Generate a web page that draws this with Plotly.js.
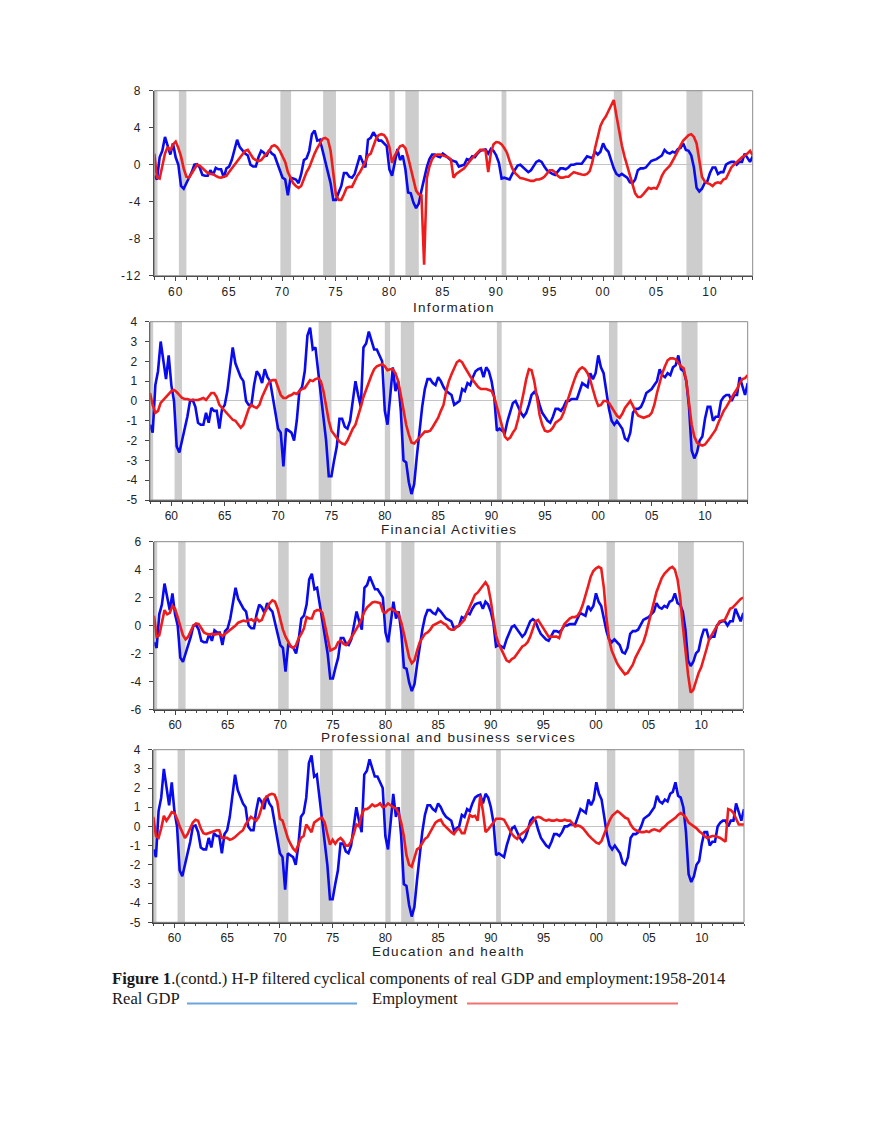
<!DOCTYPE html>
<html>
<head>
<meta charset="utf-8">
<script src="https://cdn.plot.ly/plotly-3.0.1.min.js"></script>
<style>
  body { margin: 0; background: #fff; }
  #fig { width: 880px; height: 1139px; }
  .xtick text, .ytick text { letter-spacing: 1px; }
</style>
</head>
<body>
<div id="fig"></div>
<script>
// quarterly HP cyclical components, 1958Q1 onwards
const realGDP = [
  -1.2, -1.6, 0.8, 1.5, 3.0, 2.0, 1.1, 2.3,
  0.8, 0.0, -2.3, -2.6, -2.0, -1.5, -0.8, 0.0,
  0.05, -0.3, -1.1, -1.2, -1.2, -0.6, -1.1, -0.35,
  -0.5, -0.5, -1.4, -0.4, -0.2, 0.5, 1.6, 2.7,
  1.9, 1.5, 1.2, 1.0, 0.0, -0.2, -0.2, 0.8,
  1.5, 1.3, 0.9, 1.6, 1.2, 1.0, 0.3, -0.6,
  -1.4, -1.6, -3.3, -1.4, -1.5, -1.6, -2.0, -1.0,
  0.5, 0.7, 1.5, 3.3, 3.7, 2.6, 2.7, 1.5,
  0.3, -1.0, -2.0, -3.8, -3.8, -3.0, -2.3, -0.9,
  -0.9, -1.3, -1.4, -1.0, 0.0, 1.0, 0.3, -0.3,
  2.7, 2.9, 3.5, 3.0, 2.6, 2.6, 2.3, 2.0,
  -0.5, -1.2, 0.2, 1.7, 0.5, 1.0, -0.5, -3.0,
  -3.1, -4.1, -4.7, -4.2, -2.8, -1.5, -0.3, 0.6,
  1.1, 1.1, 0.9, 0.8, 1.2, 1.0, 0.7, 0.5,
  0.4, 0.3, -0.2, -0.1, 0.0, 0.6, 0.5, 0.9,
  0.8, 1.2, 1.5, 1.6, 1.65, 1.2, 1.7, 1.5,
  1.0, 0.2, -1.5, -1.4, -1.5, -1.6, -1.0, -0.5,
  -0.1, 0.0, -0.3, -0.6, -0.8, -0.6, -0.2, 0.3,
  0.45, 0.3, -0.2, -0.6, -0.8, -1.0, -1.1, -0.8,
  -0.4, -0.4, -0.5, -0.3, 0.0, 0.0, 0.1, 0.1,
  0.1, 0.5, 0.9, 0.8, 0.7, 1.4, 1.1, 1.4,
  2.3, 1.7, 1.4, 0.5, -0.4, -1.0, -1.2, -1.0,
  -1.2, -1.4, -1.9, -2.0, -1.6, -0.6, -0.4, -0.4,
  -0.3, 0.0, 0.4, 0.5, 0.6, 0.8, 1.0, 1.6,
  1.3, 1.2, 1.4, 1.3, 1.7, 1.8, 2.3, 1.6,
  1.5, 1.0, -0.3, -2.5, -2.9, -2.6, -2.0, -1.8,
  -0.9, -0.3, -0.3, -1.0, -0.8, -0.8, 0.0, 0.2,
  0.3, 0.3, 0.0, 0.3, 0.3, 1.2, 0.8, 0.3, 0.9
];

const empInformation = [
  1.2, -1.4, -1.5, -0.2, 1.2, 1.9, 1.5, 2.2,
  2.5, 1.8, 0.9, -0.4, -1.3, -1.4, -0.9, -0.4,
  0.0, -0.1, -0.4, -0.7, -0.9, -1.0, -1.0, -1.2,
  -1.35, -1.4, -1.3, -1.2, -0.8, -0.4, 0.0, 0.4,
  0.8, 1.2, 1.5, 1.6, 1.2, 0.7, 0.5, 0.4,
  0.5, 0.9, 1.2, 1.5, 2.0, 2.1, 1.9, 1.5,
  0.8, 0.3, -0.8, -1.5, -2.0, -2.3, -2.5, -2.3,
  -1.5, -0.8, -0.3, 0.5, 1.2, 1.8, 2.3, 2.8,
  2.9, 2.7, 1.5, -1.0, -3.3, -3.8, -3.8, -3.2,
  -2.5, -2.4, -2.4, -1.8, -1.2, -0.8, -0.3, 0.3,
  1.0, 1.2, 2.0, 2.8, 3.2, 3.3, 3.2, 2.8,
  1.9, 0.2, 1.0, 1.5, 2.0, 2.1, 1.8, 0.8,
  -0.3, -1.5, -2.8, -3.2, -3.3, -10.8, -1.5, -0.2,
  0.6, 1.0, 1.1, 1.1, 1.0, 0.9, 0.8, 0.6,
  -1.4, -1.0, -0.8, -0.6, -0.4, 0.0, 0.4, 0.7,
  1.0, 1.3, 1.6, 1.6, 1.5, -0.8, 1.3, 2.2,
  2.45, 2.4, 2.2, 1.8, 1.3, 0.4, -0.4, -0.9,
  -1.2, -1.45, -1.5, -1.6, -1.7, -1.75, -1.75, -1.6,
  -1.6, -1.5, -1.3, -0.9, -0.6, -0.6, -0.8, -1.2,
  -1.4, -1.4, -1.3, -1.3, -1.0, -0.8, -0.9, -1.0,
  -1.05, -1.1, -1.0, -0.7, 0.3, 1.8, 3.0, 4.2,
  4.8, 5.2, 5.8, 6.4, 7.0, 5.3, 3.6, 2.1,
  0.9, -0.1, -1.2, -2.2, -3.1, -3.5, -3.5, -3.2,
  -2.8, -2.5, -2.6, -2.5, -2.6, -2.0, -1.2, -0.7,
  -0.4, -0.1, 0.4, 0.9, 1.5, 2.1, 2.6, 2.9,
  3.2, 3.3, 3.0, 2.3, 0.5, -1.3, -1.8, -2.0,
  -2.1, -2.3, -2.0, -1.9, -2.0, -1.6, -1.5, -0.8,
  -0.3, 0.0, 0.3, 0.5, 0.8, 1.0, 1.2, 1.5, 1.0
];

const empFinancial = [
  0.4, -0.2, -0.6, -0.5, -0.1, 0.05, 0.15, 0.3,
  0.5, 0.55, 0.45, 0.3, 0.15, 0.1, 0.1, 0.05,
  0.05, 0.05, 0.05, 0.1, 0.15, 0.05, 0.2, 0.4,
  0.4, 0.2, -0.2, -0.35, -0.5, -0.6, -0.8, -0.95,
  -1.0, -1.2, -1.35, -1.2, -0.8, -0.4, -0.2, -0.3,
  -0.35, -0.2, 0.2, 0.5, 0.8, 1.0, 1.05, 1.05,
  0.7, 0.3, 0.15, 0.15, 0.25, 0.3, 0.4, 0.35,
  0.5, 0.6, 0.65, 0.85, 1.05, 1.0, 1.1, 1.15,
  1.0, 0.5, -0.3, -1.0, -1.5, -1.7, -1.9, -2.05,
  -2.15, -2.2, -2.0, -1.7, -1.4, -1.2, -0.8, -0.3,
  0.2, 0.6, 1.0, 1.3, 1.6, 1.75, 1.8, 1.85,
  1.75, 1.55, 1.6, 1.6, 1.4, 1.0, 0.3, -0.5,
  -1.2, -1.7, -2.1, -2.15, -2.0, -1.8, -1.65, -1.55,
  -1.55, -1.5, -1.3, -1.1, -0.85, -0.5, -0.2, 0.5,
  1.0, 1.35, 1.7, 1.95, 2.05, 1.95, 1.7, 1.45,
  1.25, 1.05, 0.85, 0.7, 0.6, 0.6, 0.6, 0.55,
  0.5, 0.2, -0.3, -0.9, -1.4, -1.8, -1.95, -1.85,
  -1.6, -1.4, -0.9, -0.3, 0.4, 1.1, 1.6, 1.55,
  1.0, 0.2, -0.7, -1.2, -1.5, -1.55, -1.5, -1.35,
  -1.1, -1.0, -0.9, -0.6, -0.15, 0.25, 0.65, 1.05,
  1.4, 1.6, 1.7, 1.6, 1.4, 1.05, 0.55, 0.1,
  -0.25, -0.2, 0.0, 0.0, -0.1, -0.3, -0.55, -0.75,
  -0.85, -0.65, -0.35, -0.15, 0.0, -0.25, -0.55, -0.75,
  -0.8, -0.85, -0.8, -0.75, -0.6, -0.2, 0.4, 0.9,
  1.4, 1.75, 2.05, 2.15, 2.15, 2.1, 1.9, 1.75,
  1.65, 1.0, -0.1, -1.2, -1.8, -2.1, -2.2, -2.25,
  -2.2, -2.05, -1.85, -1.65, -1.45, -1.1, -0.8, -0.5,
  -0.3, -0.05, 0.2, 0.4, 0.6, 0.9, 1.1, 1.15, 1.3
];

const empProfessional = [
  0.7, -0.8, -0.7, 0.2, 1.1, 0.8, 0.9, 1.4,
  1.2, 0.6, -0.1, -0.7, -1.0, -0.8, -0.4, 0.0,
  0.15, 0.1, -0.2, -0.5, -0.6, -0.65, -0.6, -0.65,
  -0.6, -0.6, -0.75, -0.6, -0.45, -0.35, -0.2, 0.0,
  0.2, 0.3, 0.35, 0.3, 0.35, 0.45, 0.3, 0.5,
  0.3, 0.4, 0.9, 1.3, 1.6, 1.8, 1.7, 1.2,
  0.4, -0.3, -0.8, -1.2, -1.5, -1.6, -1.4, -0.9,
  -0.6, -0.2, 0.6, 0.5, 0.5, 1.0, 1.1, 1.1,
  0.9, 0.0, -1.0, -1.8, -1.7, -1.6, -1.2, -1.1,
  -1.3, -1.4, -1.2, -0.9, -0.6, -0.2, 0.1, 0.5,
  1.0, 1.3, 1.5, 1.65, 1.7, 1.65, 1.6, 1.0,
  0.9, 1.1, 1.2, 1.1, 1.0, 0.8, 0.2, -0.6,
  -1.5, -2.3, -2.7, -2.5, -1.8, -1.2, -0.9, -0.6,
  -0.5, -0.3, 0.0, 0.1, 0.25, 0.3, 0.15, 0.05,
  -0.2, -0.3, -0.3, -0.1, 0.0, 0.2, 0.4, 0.9,
  1.3, 1.7, 2.2, 2.35, 2.6, 2.8, 3.1, 2.8,
  1.8, 0.5, -0.7, -1.3, -1.7, -2.1, -2.5, -2.6,
  -2.4, -2.3, -2.0, -1.7, -1.5, -1.4, -1.2, -0.8,
  -0.3, 0.3, 0.4, 0.1, -0.3, -0.6, -0.8, -0.8,
  -0.8, -0.8, -0.9, -0.3, 0.1, 0.3, 0.5, 0.6,
  0.6, 0.7, 1.0, 1.5, 2.1, 2.8, 3.5, 3.9,
  4.1, 4.2, 4.1, 2.7, 0.5, -1.0, -1.8, -2.3,
  -2.7, -3.0, -3.3, -3.5, -3.4, -3.1, -2.8, -2.3,
  -1.9, -1.5, -1.2, -0.6, 0.2, 0.9, 1.7, 2.4,
  2.9, 3.4, 3.7, 3.9, 4.1, 4.2, 4.0, 3.3,
  2.0, 0.0, -2.0, -3.5, -4.8, -4.6, -4.0, -3.4,
  -3.0, -2.4, -1.7, -1.0, -0.7, -0.3, 0.0, 0.3,
  0.35, 0.4, 0.8, 1.2, 1.3, 1.5, 1.7, 1.9, 2.0
];

const empEducation = [
  0.5, -0.5, -0.6, -0.1, 0.55, 0.3, 0.5, 0.75,
  0.7, 0.4, 0.0, -0.3, -0.6, -0.4, -0.1, 0.2,
  0.35, 0.3, -0.1, -0.35, -0.4, -0.35, -0.3, -0.25,
  -0.2, -0.2, -0.6, -0.6, -0.6, -0.7, -0.65, -0.55,
  -0.4, -0.3, -0.2, 0.1, 0.3, 0.5, 0.4, 0.3,
  0.5, 1.0, 1.4, 1.55, 1.65, 1.7, 1.65, 1.3,
  0.4, 0.3, -0.2, -0.6, -0.9, -1.15, -1.3, -0.9,
  -0.6, -0.5, 0.1, -0.1, -0.3, 0.2, 0.3, 0.4,
  0.45, 0.2, -0.4, -0.95, -0.7, -0.9, -0.7, -0.6,
  -0.75, -1.0, -1.0, -0.8, -0.4, 0.1, 0.0, 0.6,
  0.9, 0.9, 1.0, 1.15, 1.05, 1.1, 1.2, 1.0,
  1.05, 1.2, 1.1, 1.0, 0.95, 0.7, 0.2, -0.5,
  -1.5, -2.0, -2.1, -1.7, -1.2, -1.1, -0.9, -0.65,
  -0.55, -0.3, 0.0, 0.2, 0.3, 0.35, 0.1, -0.05,
  -0.2, -0.3, -0.4, -0.2, -0.1, -0.35, -0.35, 0.2,
  0.6, 0.5, 0.55, 0.3, 1.6, 0.8, -0.3, -0.15,
  0.0, 0.2, 0.4, 0.4, 0.4, 0.35, 0.1, -0.2,
  -0.4, -0.55, -0.65, -0.45, -0.35, -0.25, -0.1, 0.1,
  0.3, 0.45, 0.5, 0.45, 0.35, 0.3, 0.35, 0.3,
  0.3, 0.35, 0.3, 0.3, 0.35, 0.3, 0.3, 0.15,
  0.0, 0.05, 0.0, -0.1, -0.3, -0.45, -0.6, -0.75,
  -0.85, -0.9, -0.75, -0.4, 0.0, 0.3, 0.55, 0.7,
  0.8, 0.7, 0.55, 0.45, 0.4, 0.1, -0.1, -0.2,
  -0.25, -0.3, -0.3, -0.25, -0.3, -0.2, -0.15, -0.2,
  -0.25, -0.1, 0.0, 0.15, 0.25, 0.35, 0.45, 0.6,
  0.7, 0.6, 0.45, 0.2, 0.1, 0.0, -0.1, -0.25,
  -0.35, -0.5, -0.6, -0.55, -0.5, -0.5, -0.55, -0.6,
  -0.7, -0.8, 0.9, 0.85, 0.7, 0.4, 0.1, 0.1, 0.1
];

// NBER recessions (shaded)
const recStart = [1957.9, 1960.3, 1969.8, 1973.8, 1980.0, 1981.5, 1990.5, 2001.0, 2007.8];
const recEnd   = [1958.3, 1961.0, 1970.8, 1975.0, 1980.5, 1982.75, 1990.95, 2001.8, 2009.3];

const yearTicks = [1960, 1965, 1970, 1975, 1980, 1985, 1990, 1995, 2000, 2005, 2010];
const yearLabels = ['60', '65', '70', '75', '80', '85', '90', '95', '00', '05', '10'];

const sectors = ['Information', 'Financial Activities', 'Professional and business services', 'Education and health'];
const employment = [empInformation, empFinancial, empProfessional, empEducation];

// panel boxes in page pixels
const W = 880, H = 1139;
const panels = [
  {top: 90.7, bottom: 275.7, left: 154.3, right: 752.7, range: [-12, 8], dtick: 4, titleY: 307.5},
  {top: 321.7, bottom: 500, left: 150, right: 747.7, range: [-5, 4], dtick: 1, titleY: 529.5},
  {top: 541.7, bottom: 709.3, left: 154, right: 743.3, range: [-6, 6], dtick: 2, titleY: 737.5},
  {top: 749.7, bottom: 922.3, left: 153.3, right: 744, range: [-5, 4], dtick: 1, titleY: 951}
];

const quarters = realGDP.map((_, i) => 1958 + i / 4);

const tickFont = {family: 'Liberation Sans, Arial, sans-serif', size: 12, color: '#222'};
const axisColor = '#444';

const data = [];
const shapes = [];
const annotations = [];
const layout = {
  width: W,
  height: H,
  margin: {l: 0, r: 0, t: 0, b: 0},
  paper_bgcolor: '#fff',
  plot_bgcolor: '#fff',
  showlegend: false
};

panels.forEach((p, k) => {
  const sfx = k === 0 ? '' : String(k + 1);
  const xa = 'x' + sfx, ya = 'y' + sfx;

  // y ticks written with a plain hyphen, as in the original
  const yvals = [];
  for (let v = p.range[0]; v <= p.range[1]; v += p.dtick) yvals.push(v);

  data.push({
    x: quarters, y: realGDP, xaxis: xa, yaxis: ya,
    mode: 'lines', line: {color: '#0a0aee', width: 2.6}, hoverinfo: 'skip'
  });
  data.push({
    x: quarters, y: employment[k], xaxis: xa, yaxis: ya,
    mode: 'lines', line: {color: '#ee1c1c', width: 2.6}, hoverinfo: 'skip'
  });

  layout['xaxis' + sfx] = {
    domain: [p.left / W, p.right / W],
    anchor: ya,
    range: [1958, 2014],
    tickmode: 'array',
    tickvals: yearTicks,
    ticktext: yearLabels,
    ticks: 'outside',
    ticklen: 4,
    tickcolor: axisColor,
    tickwidth: 1,
    minor: {tickmode: 'linear', tick0: 1958, dtick: 1, ticks: 'outside', ticklen: 2.5, tickcolor: axisColor},
    showline: true,
    linecolor: axisColor,
    linewidth: 1.5,
    showgrid: false,
    zeroline: false,
    tickfont: tickFont,
    fixedrange: true
  };
  layout['yaxis' + sfx] = {
    domain: [1 - p.bottom / H, 1 - p.top / H],
    anchor: xa,
    range: p.range,
    tickmode: 'array',
    tickvals: yvals,
    ticktext: yvals.map(v => String(v)),
    ticks: 'outside',
    ticklen: 4,
    tickcolor: axisColor,
    ticklabelstandoff: 5,
    showline: true,
    linecolor: axisColor,
    linewidth: 1.5,
    showgrid: false,
    zeroline: true,
    zerolinecolor: '#c4c4c4',
    zerolinewidth: 1,
    tickfont: tickFont,
    fixedrange: true
  };

  recStart.forEach((s, j) => {
    shapes.push({
      type: 'rect', layer: 'below',
      xref: xa, yref: ya + ' domain',
      x0: s, x1: recEnd[j], y0: 0, y1: 1,
      fillcolor: '#cdcdcd', line: {width: 0}
    });
  });
  // light frame on top and right
  shapes.push({
    type: 'rect', layer: 'above',
    xref: xa + ' domain', yref: ya + ' domain',
    x0: 0, x1: 1, y0: 0, y1: 1,
    line: {color: '#8a8a8a', width: 1}
  });

  annotations.push({
    text: '<span style="letter-spacing:1.3px">' + sectors[k] + '</span>',
    xref: 'paper', yref: 'paper',
    x: (p.left + p.right) / 2 / W, y: 1 - p.titleY / H,
    xanchor: 'center', yanchor: 'middle', showarrow: false,
    font: {family: 'Liberation Sans, Arial, sans-serif', size: 13.5, color: '#222'}
  });
});

// caption
const capFont = {family: 'Liberation Serif, Times New Roman, serif', size: 16.6, color: '#1a1a1a'};
annotations.push({
  text: '<b>Figure 1</b>.(contd.) H-P filtered cyclical components of real GDP and employment:1958-2014',
  xref: 'paper', yref: 'paper', x: 110 / W, y: 1 - 978 / H,
  xanchor: 'left', yanchor: 'middle', showarrow: false, font: capFont
});
annotations.push({
  text: 'Real GDP', xref: 'paper', yref: 'paper', x: 110 / W, y: 1 - 998 / H,
  xanchor: 'left', yanchor: 'middle', showarrow: false, font: capFont
});
annotations.push({
  text: 'Employment', xref: 'paper', yref: 'paper', x: 370 / W, y: 1 - 998 / H,
  xanchor: 'left', yanchor: 'middle', showarrow: false, font: capFont
});
shapes.push({
  type: 'line', xref: 'paper', yref: 'paper',
  x0: 187 / W, x1: 357 / W, y0: 1 - 1003.5 / H, y1: 1 - 1003.5 / H,
  line: {color: '#6aa6dc', width: 1.8}
});
shapes.push({
  type: 'line', xref: 'paper', yref: 'paper',
  x0: 467 / W, x1: 678 / W, y0: 1 - 1003.5 / H, y1: 1 - 1003.5 / H,
  line: {color: '#f07272', width: 1.8}
});

layout.shapes = shapes;
layout.annotations = annotations;

Plotly.newPlot('fig', data, layout, {staticPlot: true, displayModeBar: false});
</script>
</body>
</html>
